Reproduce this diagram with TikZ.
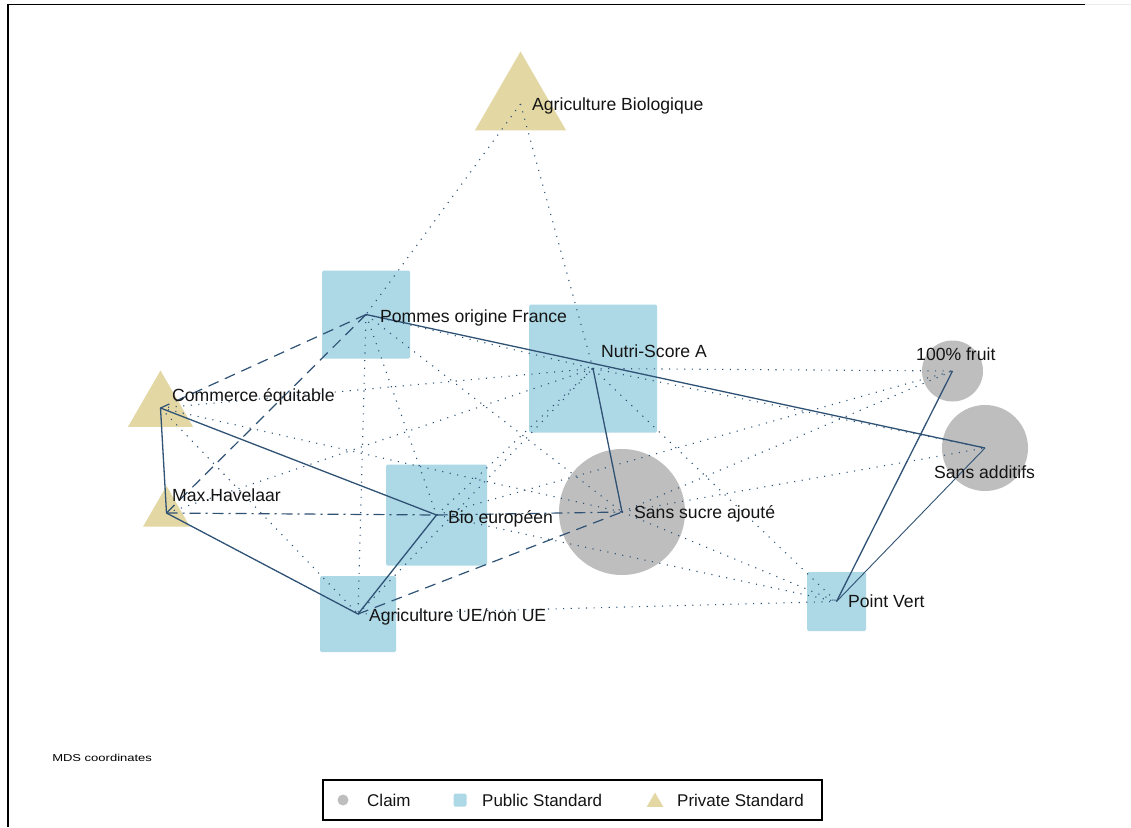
\documentclass[tikz,border=0pt]{standalone}
\usepackage{fontspec}
\setmainfont{Liberation Sans}
\usetikzlibrary{shapes.geometric}
\definecolor{edgeblue}{HTML}{2F5275}
\definecolor{pubblue}{HTML}{ADD8E6}
\definecolor{claimgrey}{HTML}{BEBEBE}
\definecolor{privtan}{HTML}{E3D7A3}
\tikzset{
  pubsq/.style={rectangle, fill=pubblue, rounded corners=1.5pt, inner sep=0pt, outer sep=0pt},
  claimcirc/.style={circle, fill=claimgrey, inner sep=0pt, outer sep=0pt},
  privtri/.style={regular polygon, regular polygon sides=3, fill=privtan, inner sep=0pt, outer sep=0pt},
  lbl/.style={anchor=base west, inner sep=0pt, font=\fontsize{17.6}{20}\selectfont, text=black!92},
  leglbl/.style={anchor=base west, inner sep=0pt, font=\fontsize{17}{20}\selectfont, text=black!92},
  strongedge/.style={draw=edgeblue, line width=1.3pt},
  weakedge/.style={draw=edgeblue, line width=0.9pt},
  dashedge/.style={draw=edgeblue, line width=1.2pt, dash pattern=on 11pt off 7pt},
  dashdotedge/.style={draw=edgeblue, line width=1.2pt, dash pattern=on 11pt off 5pt on 2pt off 5pt},
  dotedge/.style={draw=edgeblue, line width=1.1pt, dash pattern=on 1.1pt off 6.5pt},
}
\begin{document}
\begin{tikzpicture}[x=1pt,y=-1pt]
\useasboundingbox[fill=white] (0,0) rectangle (1131,827);
\draw[line width=1.3pt, black] (8,827) -- (8,4.5) -- (1085,4.5);
\draw[line width=1pt, black!8] (1085,4.5) -- (1131,4.5);

% nodes (shapes)
\node[privtri, minimum size=105pt] (ab) at (520.5,104) {};
\node[privtri, minimum size=75pt] (ce) at (160.5,408) {};
\node[privtri, minimum size=54pt] (mh) at (166.5,513) {};
\node[pubsq, minimum width=88pt, minimum height=88pt] (pom) at (366,314.5) {};
\node[pubsq, minimum width=128pt, minimum height=128pt] (ns) at (593,368.5) {};
\node[pubsq, minimum width=101pt, minimum height=101pt] (bio) at (436.5,515) {};
\node[pubsq, minimum width=76pt, minimum height=76pt] (ue) at (358,614) {};
\node[pubsq, minimum width=59pt, minimum height=59pt] (pv) at (836.5,601.5) {};
\node[claimcirc, minimum size=126pt] (ss) at (622,512) {};
\node[claimcirc, minimum size=61pt] (fr) at (952.5,371) {};
\node[claimcirc, minimum size=86pt] (sa) at (985,448) {};

% dotted edges
\draw[dotedge] (ab.center) -- (pom.center);
\draw[dotedge] (ab.center) -- (ns.center);
\draw[dotedge] (ns.center) -- (fr.center);
\draw[dotedge] (ns.center) -- (pv.center);
\draw[dotedge] (ns.center) -- (sa.center);
\draw[dotedge] (pom.center) -- (ns.center);
\draw[dotedge] (ss.center) -- (pv.center);
\draw[dotedge] (bio.center) -- (pv.center);
\draw[dotedge] (ue.center) -- (pv.center);
\draw[dotedge] (ce.center) -- (ns.center);
\draw[dotedge] (ce.center) -- (ss.center);
\draw[dotedge] (ce.center) -- (ue.center);
\draw[dotedge] (mh.center) -- (ns.center);
\draw[dotedge] (ue.center) -- (ns.center);
\draw[dotedge] (bio.center) -- (ns.center);
\draw[dotedge] (bio.center) -- (fr.center);
\draw[dotedge] (ss.center) -- (fr.center);
\draw[dotedge] (ss.center) -- (sa.center);
\draw[dotedge] (pom.center) -- (ss.center);
\draw[dotedge] (pom.center) -- (ue.center);
\draw[dotedge] (pom.center) -- (bio.center);

% dashed edges
\draw[dashedge] (pom.center) -- (ce.center);
\draw[dashedge] (pom.center) -- (mh.center);
\draw[dashedge] (ue.center) -- (ss.center);
\draw[dashdotedge] (mh.center) -- (bio.center);
\draw[dashdotedge] (bio.center) -- (ss.center);

% solid edges
\draw[strongedge] (pom.center) -- (sa.center);
\draw[strongedge] (ns.center) -- (ss.center);
\draw[strongedge] (ce.center) -- (mh.center);
\draw[strongedge] (ce.center) -- (bio.center);
\draw[strongedge] (mh.center) -- (ue.center);
\draw[strongedge] (bio.center) -- (ue.center);
\draw[strongedge] (pv.center) -- (fr.center);
\draw[weakedge] (pv.center) -- (sa.center);

% labels
\node[lbl] (labab) at (532,110.3) {Agriculture Biologique};
\node[lbl] (labpom) at (380,322.3) {Pommes origine France};
\node[lbl] (labns) at (601,357.3) {Nutri-Score A};
\node[lbl] (labce) at (172,401.3) {Commerce équitable};
\node[lbl] (labmh) at (172,501.3) {Max.Havelaar};
\node[lbl] (labbio) at (448,523.3) {Bio européen};
\node[lbl] (labss) at (634,518.3) {Sans sucre ajouté};
\node[lbl] (labue) at (369,621.3) {Agriculture UE/non UE};
\node[lbl] (labpv) at (848,607.3) {Point Vert};
\node[lbl] (labfr) at (916,360.3) {100\% fruit};
\node[lbl] (labsa) at (934,478.3) {Sans additifs};

\node[anchor=base west, inner sep=0pt, font=\fontsize{10}{12}\selectfont, xscale=1.3] (mds) at (52,761) {MDS coordinates};

% legend
\node[draw=black, line width=1.2pt, fill=white, minimum width=499pt, minimum height=40pt, inner sep=0pt] (legbox) at (572.5,800) {};
\node[claimcirc, minimum size=11pt] (legclaim) at (343,800) {};
\node[pubsq, minimum width=13pt, minimum height=13pt] (legpub) at (460,800) {};
\node[privtri, minimum size=19pt] (legpriv) at (655,802) {};
\node[leglbl] (legt1) at (367,806.2) {Claim};
\node[leglbl] (legt2) at (482,806.2) {Public Standard};
\node[leglbl] (legt3) at (677,806.2) {Private Standard};
\end{tikzpicture}
\end{document}
